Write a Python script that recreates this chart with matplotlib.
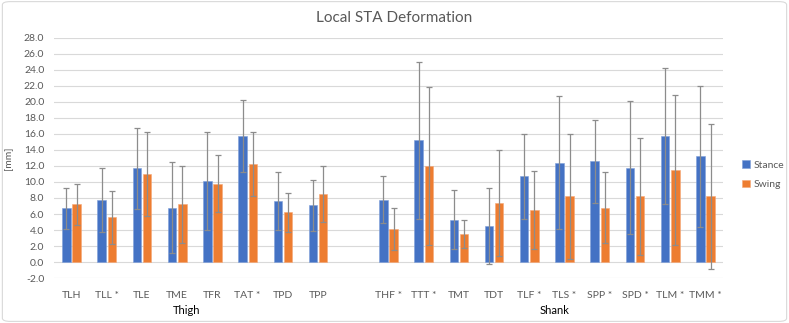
import numpy as np
import matplotlib.pyplot as plt
from matplotlib.patches import FancyBboxPatch

plt.rcParams['font.family'] = ['Lato', 'DejaVu Sans']

thigh_labels = ['TLH', 'TLL *', 'TLE', 'TME', 'TFR', 'TAT *', 'TPD', 'TPP']
shank_labels = ['THF *', 'TTT *', 'TMT', 'TDT', 'TLF *', 'TLS *', 'SPP *', 'SPD *', 'TLM *', 'TMM *']

stance_mean = [6.7, 7.8, 11.7, 6.8, 10.1, 15.7, 7.6, 7.1,
               7.8, 15.2, 5.3, 4.5, 10.7, 12.4, 12.6, 11.8, 15.8, 13.2]
stance_sd = [2.6, 4.0, 5.1, 5.7, 6.1, 4.5, 3.6, 3.2,
             2.9, 9.8, 3.7, 4.7, 5.3, 8.3, 5.2, 8.3, 8.5, 8.8]
swing_mean = [7.2, 5.6, 11.0, 7.2, 9.8, 12.3, 6.2, 8.5,
              4.1, 12.0, 3.5, 7.4, 6.5, 8.2, 6.8, 8.2, 11.5, 8.2]
swing_sd = [2.6, 3.3, 5.2, 4.8, 3.6, 4.0, 2.4, 3.5,
            2.6, 9.9, 1.8, 6.6, 4.9, 7.8, 4.4, 7.3, 9.4, 9.1]

labels = thigh_labels + shank_labels
# one empty category slot between the thigh and shank groups
pos = np.array(list(range(len(thigh_labels))) +
               list(range(len(thigh_labels) + 1, len(thigh_labels) + 1 + len(shank_labels))))

fig = plt.figure(figsize=(7.89, 3.23), dpi=100)
ax = fig.add_axes([0.0684, 0.1393, 0.848, 0.7431])

w = 0.24
off = 0.145
blue = '#4472C4'
orange = '#ED7D31'
err_kw = dict(ecolor='#8c8c8c', elinewidth=0.9, capsize=2.2, capthick=0.9)

ax.bar(pos - off, stance_mean, w, yerr=stance_sd, color=blue, label='Stance',
       edgecolor='#7f9fd9', linewidth=0.4, error_kw=err_kw, zorder=3)
ax.bar(pos + off, swing_mean, w, yerr=swing_sd, color=orange, label='Swing',
       edgecolor='#f5a877', linewidth=0.4, error_kw=err_kw, zorder=3)

ax.set_xlim(-0.5, pos[-1] + 0.5)
ax.set_ylim(-2, 28)
ax.set_yticks(np.arange(-2, 29, 2))
ax.set_yticklabels([f'{v:.1f}' for v in np.arange(-2, 29, 2)])
ax.set_xticks(pos)
ax.set_xticklabels(labels)
ax.tick_params(axis='both', length=0, labelsize=7.5, colors='#595959')
ax.tick_params(axis='x', pad=9)
ax.tick_params(axis='y', pad=7)
ax.grid(axis='y', color='#d9d9d9', linewidth=0.8, zorder=0)
for s in ax.spines.values():
    s.set_visible(False)

ax.set_ylabel('[mm]', fontsize=7.5, color='#595959', labelpad=8)

fig.text(0.5, 0.945, 'Local STA Deformation', ha='center', va='center',
         fontsize=11, color='#595959')
fig.text(187 / 789, 1 - 310 / 323, 'Thigh', ha='center', va='center', fontsize=8, color='#000000')
fig.text(555 / 789, 1 - 310 / 323, 'Shank', ha='center', va='center', fontsize=8, color='#000000')

leg = ax.legend(loc='center left', bbox_to_anchor=(1.015, 0.43), frameon=False,
                fontsize=7.5, handlelength=0.7, handleheight=0.7, handletextpad=0.4,
                labelspacing=1.0, labelcolor='#595959')

fig.patches.append(FancyBboxPatch((0.003, 0.005), 0.994, 0.99, boxstyle='round,pad=0,rounding_size=0.01',
                                  transform=fig.transFigure, facecolor='none',
                                  edgecolor='#d9d9d9', linewidth=0.8))

fig.savefig('out.png', dpi=100)
